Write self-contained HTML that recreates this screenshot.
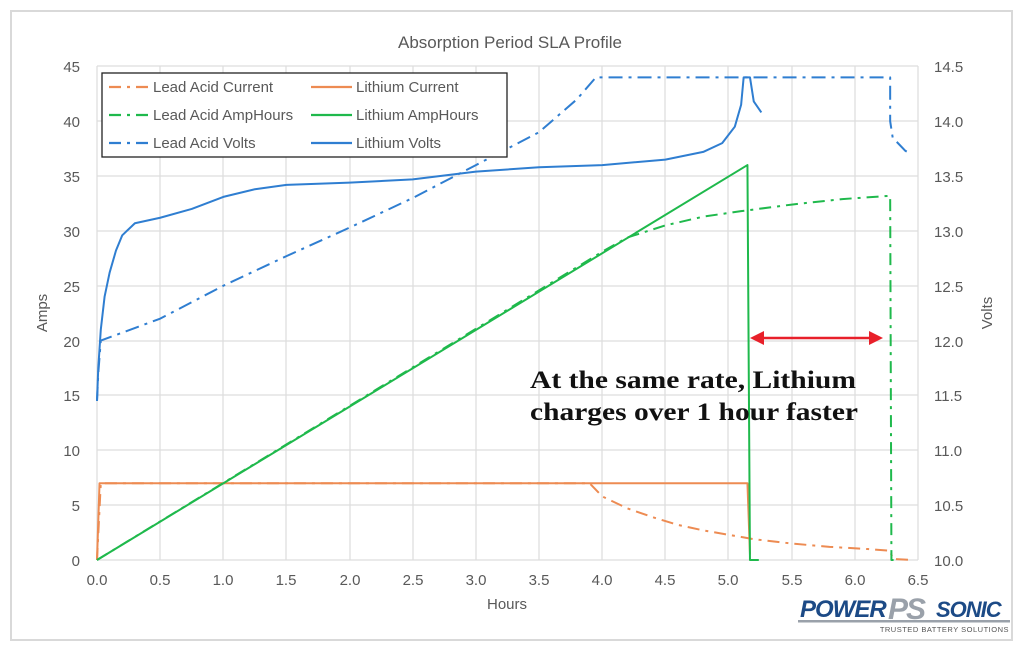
<!DOCTYPE html>
<html><head><meta charset="utf-8"><style>
html,body{margin:0;padding:0;background:#fff}
svg{display:block;font-family:"Liberation Sans",sans-serif}
</style></head><body>
<svg width="1024" height="656" viewBox="0 0 1024 656" xmlns="http://www.w3.org/2000/svg">
<rect x="11" y="11" width="1001" height="629" fill="#fff" stroke="#d9d9d9" stroke-width="2"/>
<text x="510" y="48" text-anchor="middle" font-size="17" fill="#595959">Absorption Period SLA Profile</text>
<g stroke="#dedede" stroke-width="1.3">
<line x1="97" y1="560" x2="918" y2="560"/><line x1="97" y1="505" x2="918" y2="505"/><line x1="97" y1="450" x2="918" y2="450"/><line x1="97" y1="395" x2="918" y2="395"/><line x1="97" y1="341" x2="918" y2="341"/><line x1="97" y1="286" x2="918" y2="286"/><line x1="97" y1="231" x2="918" y2="231"/><line x1="97" y1="176" x2="918" y2="176"/><line x1="97" y1="121" x2="918" y2="121"/><line x1="97" y1="66" x2="918" y2="66"/>
<line x1="97" y1="66" x2="97" y2="560"/><line x1="160" y1="66" x2="160" y2="560"/><line x1="223" y1="66" x2="223" y2="560"/><line x1="286" y1="66" x2="286" y2="560"/><line x1="350" y1="66" x2="350" y2="560"/><line x1="413" y1="66" x2="413" y2="560"/><line x1="476" y1="66" x2="476" y2="560"/><line x1="539" y1="66" x2="539" y2="560"/><line x1="602" y1="66" x2="602" y2="560"/><line x1="665" y1="66" x2="665" y2="560"/><line x1="728" y1="66" x2="728" y2="560"/><line x1="792" y1="66" x2="792" y2="560"/><line x1="855" y1="66" x2="855" y2="560"/><line x1="918" y1="66" x2="918" y2="560"/>
</g>
<g font-size="15" fill="#595959" text-anchor="end">
<text x="80" y="566">0</text><text x="80" y="511">5</text><text x="80" y="456">10</text><text x="80" y="401">15</text><text x="80" y="347">20</text><text x="80" y="292">25</text><text x="80" y="237">30</text><text x="80" y="182">35</text><text x="80" y="127">40</text><text x="80" y="72">45</text>
</g>
<g font-size="15" fill="#595959">
<text x="934" y="566">10.0</text><text x="934" y="511">10.5</text><text x="934" y="456">11.0</text><text x="934" y="401">11.5</text><text x="934" y="347">12.0</text><text x="934" y="292">12.5</text><text x="934" y="237">13.0</text><text x="934" y="182">13.5</text><text x="934" y="127">14.0</text><text x="934" y="72">14.5</text>
</g>
<g font-size="15" fill="#595959" text-anchor="middle">
<text x="97" y="585">0.0</text><text x="160" y="585">0.5</text><text x="223" y="585">1.0</text><text x="286" y="585">1.5</text><text x="350" y="585">2.0</text><text x="413" y="585">2.5</text><text x="476" y="585">3.0</text><text x="539" y="585">3.5</text><text x="602" y="585">4.0</text><text x="665" y="585">4.5</text><text x="728" y="585">5.0</text><text x="792" y="585">5.5</text><text x="855" y="585">6.0</text><text x="918" y="585">6.5</text>
<text x="507" y="609">Hours</text>
<text transform="translate(47,313) rotate(-90)">Amps</text>
<text transform="translate(992,313) rotate(-90)">Volts</text>
</g>
<g transform="translate(97,560) scale(126.3,-10.97)" fill="none" stroke-width="2" stroke-linejoin="round">
<polyline vector-effect="non-scaling-stroke" stroke="#ed8b52" points="0,0 0.02,7 5.15,7 5.17,0.5"/>
<polyline vector-effect="non-scaling-stroke" stroke="#ed8b52" stroke-dasharray="12,6,3,6" points="0,0 0.03,7 3.9,7 4.0,5.8 4.2,4.7 4.4,3.9 4.6,3.2 4.8,2.7 5.0,2.3 5.2,1.9 5.5,1.5 5.8,1.2 6.1,1.0 6.28,0.85 6.3,0.1 6.45,0"/>
<polyline vector-effect="non-scaling-stroke" stroke="#1fb94c" stroke-dasharray="12,6,3,6" points="0,0 4.0,28.1 4.2,29.4 4.5,30.5 4.8,31.3 5.1,31.8 5.5,32.4 5.9,32.9 6.28,33.2 6.29,0 6.35,0"/>
<polyline vector-effect="non-scaling-stroke" stroke="#1fb94c" points="0,0 5.15,36 5.17,0 5.24,0"/>
<polyline vector-effect="non-scaling-stroke" stroke="#2f7ed1" stroke-dasharray="14,6,3,6" points="0,14.5 0.01,17 0.03,20 0.5,22 1.0,25 1.5,27.7 2.0,30.3 2.5,33 3.0,36 3.5,39 3.8,42 3.95,44 6.28,44 6.28,40 6.3,38.5 6.4,37.3 6.45,37"/>
<polyline vector-effect="non-scaling-stroke" stroke="#2f7ed1" points="0,14.5 0.01,17.5 0.03,21 0.06,24 0.1,26.2 0.15,28.2 0.2,29.6 0.3,30.7 0.5,31.2 0.75,32 1.0,33.1 1.25,33.8 1.5,34.2 2.0,34.4 2.5,34.7 3.0,35.4 3.5,35.8 4.0,36 4.5,36.5 4.8,37.2 4.95,38 5.05,39.5 5.1,41.5 5.12,44 5.17,44 5.2,41.8 5.26,40.8"/>
</g>
<rect x="102" y="73" width="405" height="84" fill="#fff" stroke="#222" stroke-width="1.3"/>
<g stroke-width="2.2">
<line x1="109" y1="87" x2="152" y2="87" stroke="#ed8b52" stroke-dasharray="12,6,3,6"/>
<line x1="311" y1="87" x2="352" y2="87" stroke="#ed8b52"/>
<line x1="109" y1="115" x2="152" y2="115" stroke="#1fb94c" stroke-dasharray="12,6,3,6"/>
<line x1="311" y1="115" x2="352" y2="115" stroke="#1fb94c"/>
<line x1="109" y1="143" x2="152" y2="143" stroke="#2f7ed1" stroke-dasharray="12,6,3,6"/>
<line x1="311" y1="143" x2="352" y2="143" stroke="#2f7ed1"/>
</g>
<g font-size="15" fill="#595959">
<text x="153" y="92">Lead Acid Current</text><text x="356" y="92">Lithium Current</text>
<text x="153" y="120">Lead Acid AmpHours</text><text x="356" y="120">Lithium AmpHours</text>
<text x="153" y="148">Lead Acid Volts</text><text x="356" y="148">Lithium Volts</text>
</g>
<line x1="760" y1="338" x2="872" y2="338" stroke="#e8202a" stroke-width="2.5"/>
<polygon points="750,338 764,331 764,345" fill="#e8202a"/>
<polygon points="883,338 869,331 869,345" fill="#e8202a"/>
<g font-family="'Liberation Serif',serif" font-weight="bold" font-size="25" fill="#111">
<text x="530" y="388" textLength="326" lengthAdjust="spacingAndGlyphs">At the same rate, Lithium</text>
<text x="530" y="420" textLength="328" lengthAdjust="spacingAndGlyphs">charges over 1 hour faster</text>
</g>
<g font-style="italic" font-weight="bold">
<text x="800" y="617" font-size="24" fill="#1c4a86" letter-spacing="-1">POWER</text>
<text x="888" y="619" font-size="30" fill="#9aa1aa" letter-spacing="-2">PS</text>
<text x="936" y="617" font-size="22" fill="#1c4a86" letter-spacing="-1">SONIC</text>
</g>
<rect x="798" y="620" width="212" height="2.5" fill="#9aa1aa"/>
<text x="1009" y="632" font-size="7.5" fill="#555" text-anchor="end" letter-spacing="0.5">TRUSTED BATTERY SOLUTIONS</text>
</svg>
</body></html>
